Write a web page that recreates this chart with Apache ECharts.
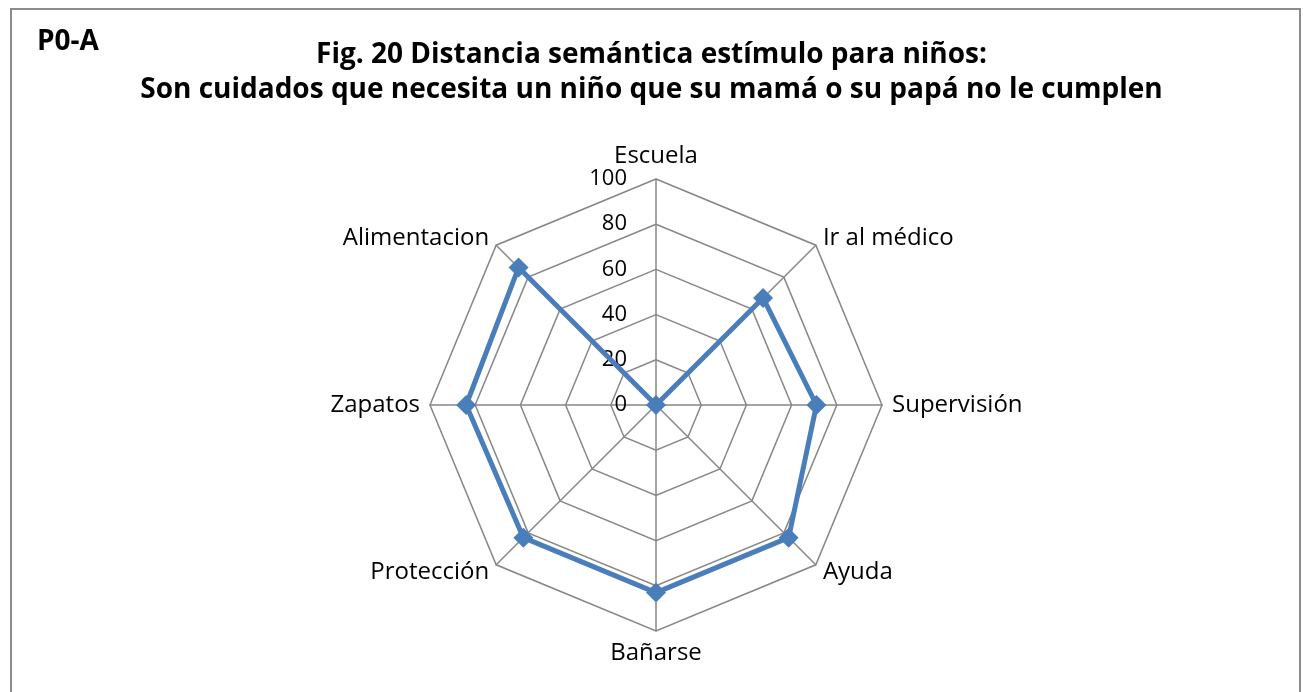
<!DOCTYPE html>
<html>
<head>
<meta charset="utf-8">
<script src="https://cdn.jsdelivr.net/npm/echarts@6/dist/echarts.min.js"></script>
<style>
html,body{margin:0;padding:0;background:#fff;overflow:hidden;}
#frame{position:absolute;left:10px;top:8px;width:1291px;height:700px;border:2px solid #8c8c8c;box-sizing:border-box;}
#chart{position:absolute;left:0;top:0;width:1303px;height:692px;}
</style>
</head>
<body>
<div id="frame"></div>
<div id="chart"></div>
<script>
// Categories listed clockwise starting from the top
const categories = ['Escuela','Ir al médico','Supervisión','Ayuda','Bañarse','Protección','Zapatos','Alimentacion'];
const values = [0, 67, 71, 83, 83, 83, 84, 86];
const tickMax = 100;
const tickCount = 5;
const titleLine1 = 'Fig. 20 Distancia semántica estímulo para niños:';
const titleLine2 = 'Son cuidados que necesita un niño que su mamá o su papá no le cumplen';
const cornerLabel = 'P0-A';

// ECharts radar runs counter-clockwise: reorder so the display is clockwise
const order = [0].concat(categories.map((_, i) => i).slice(1).reverse());
const radarCats = order.map(i => categories[i]);
const radarVals = order.map(i => values[i]);

const FONT = '"Open Sans", "Liberation Sans", sans-serif';
const chart = echarts.init(document.getElementById('chart'), null, {renderer:'canvas'});
chart.setOption({
  animation: false,
  title: [
    {text: cornerLabel, left: 32, top: 23, textStyle:{fontFamily:FONT, fontSize:28, fontWeight:'bold', color:'#000'}},
    {text: titleLine1 + '\n' + titleLine2, left: 'center', top: 33,
     textStyle:{fontFamily:FONT, fontSize:28, fontWeight:'bold', color:'#000', lineHeight:35}}
  ],
  radar: {
    center: [656, 405],
    radius: 226,
    startAngle: 90,
    shape: 'polygon',
    splitNumber: tickCount,
    nameGap: 10,
    axisName: {color:'#000', fontFamily:FONT, fontSize:24},
    axisLine: {lineStyle:{color:'#878787', width:1.5}},
    splitLine: {lineStyle:{color:'#878787', width:1.5}},
    splitArea: {show:false},
    axisTick: {show:false},
    axisLabel: {show:true, color:'#000', fontFamily:FONT, fontSize:22, margin:29},
    indicator: radarCats.map((c,i) => i === 0
      ? {name:c, min:0, max:tickMax}
      : {name:c, min:0, max:tickMax, axisLabel:{show:false}})
  },
  series: [{
    type: 'radar',
    symbol: 'diamond',
    symbolSize: 20,
    lineStyle: {color:'#4a7ebb', width:5},
    itemStyle: {color:'#4a7ebb'},
    data: [{value: radarVals}]
  }]
});
</script>
</body>
</html>
